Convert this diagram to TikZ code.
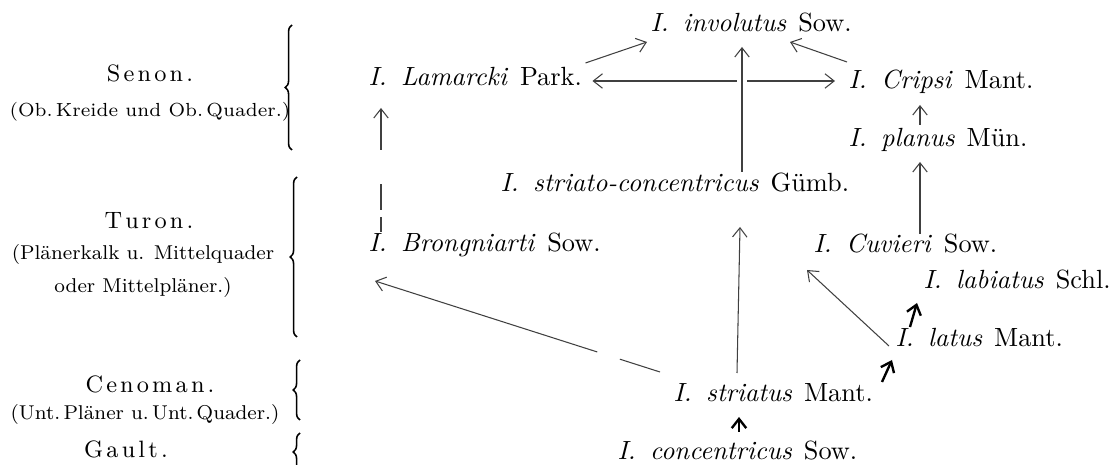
\documentclass[tikz,border=0pt]{standalone}
\usepackage{xcolor}
\usepackage{tikz}
\usetikzlibrary{arrows.meta, calc, decorations.pathreplacing}

\newcommand{\spec}[2]{\textit{I.}\hspace{0.55em}\textit{#1}\hspace{0.45em}#2}
\newcommand{\ls}{\kern1.2pt}

\begin{document}
\begin{tikzpicture}[x=0.38pt, y=-0.38pt,
    species/.style={inner sep=0pt, anchor=base west, font=\normalsize},
    stage/.style={inner sep=0pt, anchor=base, font=\small},
    stagesub/.style={inner sep=0pt, anchor=base, font=\fontsize{7.6}{9}\selectfont},
    link/.style={-{Straight Barb[length=3.5pt,width=5.5pt]}, line width=0.4pt, draw=black!75},
    boldlink/.style={link, line width=0.9pt, draw=black},
    period/.style={decorate, decoration={brace, amplitude=2.6pt}, line width=0.6pt}]

    \useasboundingbox (0,0) rectangle (1112,465);

    % stages
    \node[stage] (senon) at (150,82) {S\ls e\ls n\ls o\ls n\ls .};
    \node[stagesub, font=\fontsize{7.2}{9}\selectfont] (senonsub) at (150,117) {(Ob.\,Kreide und Ob.\,Quader.)};
    \node[stage] (turon) at (149,229) {T\ls u\ls r\ls o\ls n\ls .};
    \node[stagesub] (turonsub) at (143,260) {(Plänerkalk u. Mittelquader};
    \node[stagesub] (turonsubb) at (143,293) {oder Mittelpläner.)};
    \node[stage] (cenoman) at (150,393) {C\ls e\ls n\ls o\ls m\ls a\ls n\ls .};
    \node[stagesub] (cenomansub) at (145,420) {(Unt.\,Pläner u.\,Unt.\,Quader.)};
    \node[stage] (gault) at (126,458) {G\ls a\ls u\ls l\ls t\ls .};

    \draw[period] (292,150) -- (292,25);
    \draw[period] (297,337) -- (297,177);
    \draw[period] (300,420) -- (300,360);
    \begin{scope}
      \clip (0,0) rectangle (1112,465);
      \draw[period] (300,471) -- (300,433);
    \end{scope}

    % species
    \node[species] (involutus) at (650,32) {\spec{involutus}{Sow.}};
    \node[species] (lamarcki) at (368,86) {\spec{Lamarcki}{Park.}};
    \node[species] (cripsi) at (848,89) {\spec{Cripsi}{Mant.}};
    \node[species] (planus) at (848,147) {\spec{planus}{Mün.}};
    \node[species] (striato) at (500,192) {\spec{striato-concentricus}{Gümb.}};
    \node[species] (brongniarti) at (368,252) {\spec{Brongniarti}{Sow.}};
    \node[species] (cuvieri) at (813,253) {\spec{Cuvieri}{Sow.}};
    \node[species] (labiatus) at (923,289) {\spec{labiatus}{Schl.}};
    \node[species] (latus) at (895,347) {\spec{latus}{Mant.}};
    \node[species] (striatus) at (673,402) {\spec{striatus}{Mant.}};
    \node[species] (concentricus) at (617,460) {\spec{concentricus}{Sow.}};

    % descent
    \draw[link] ($(lamarcki.base east)+(3,-23)$) -- ($(involutus.base west)+(-3,10)$);
    \draw[link] ($(cripsi.base west)+(-1,-27)$) -- ($(involutus.base west)+(140,10)$);
    \draw[link, {Straight Barb[length=3.5pt,width=5.5pt]}-{Straight Barb[length=3.5pt,width=5.5pt]}]
        ($(lamarcki.base east)+(10,-5)$) -- ($(cripsi.base west)+(-13,-8)$);
    \draw[link, preaction={draw=white, line width=4pt, -}]
        ($(striato.base west)+(242,-20)$) -- ($(involutus.base west)+(92,15)$);
    \draw[link, dash pattern=on 5.7pt off 2.7pt on 9.9pt off 12.9pt on 40pt]
        ($(brongniarti.base west)+(13,-20)$) -- ($(lamarcki.base west)+(13,22)$);
    \draw[link] ($(planus.base west)+(72,-22)$) -- ($(cripsi.base west)+(72,16)$);
    \draw[link] ($(cuvieri.base west)+(107,-19)$) -- ($(planus.base west)+(72,15)$);
    \draw[link] ($(striatus.base west)+(64,-29)$) -- ($(striato.base west)+(240,35)$);
    \draw[boldlink] ($(concentricus.base west)+(122,-28)$) -- ($(striatus.base west)+(66,15)$);
    \draw[link, dash pattern=on 16pt off 9pt on 150pt]
        ($(striatus.base west)+(-13,-30)$) -- ($(brongniarti.base west)+(7,29)$);
    \draw[link] ($(latus.base west)+(-6,-1)$) -- ($(cuvieri.base west)+(-6,17)$);
    \draw[boldlink] ($(latus.base west)+(15,-20)$) -- ($(labiatus.base west)+(-6,14)$);
    \draw[boldlink] ($(striatus.base west)+(209,-20)$) -- ($(latus.base west)+(-3,13)$);
\end{tikzpicture}
\end{document}
